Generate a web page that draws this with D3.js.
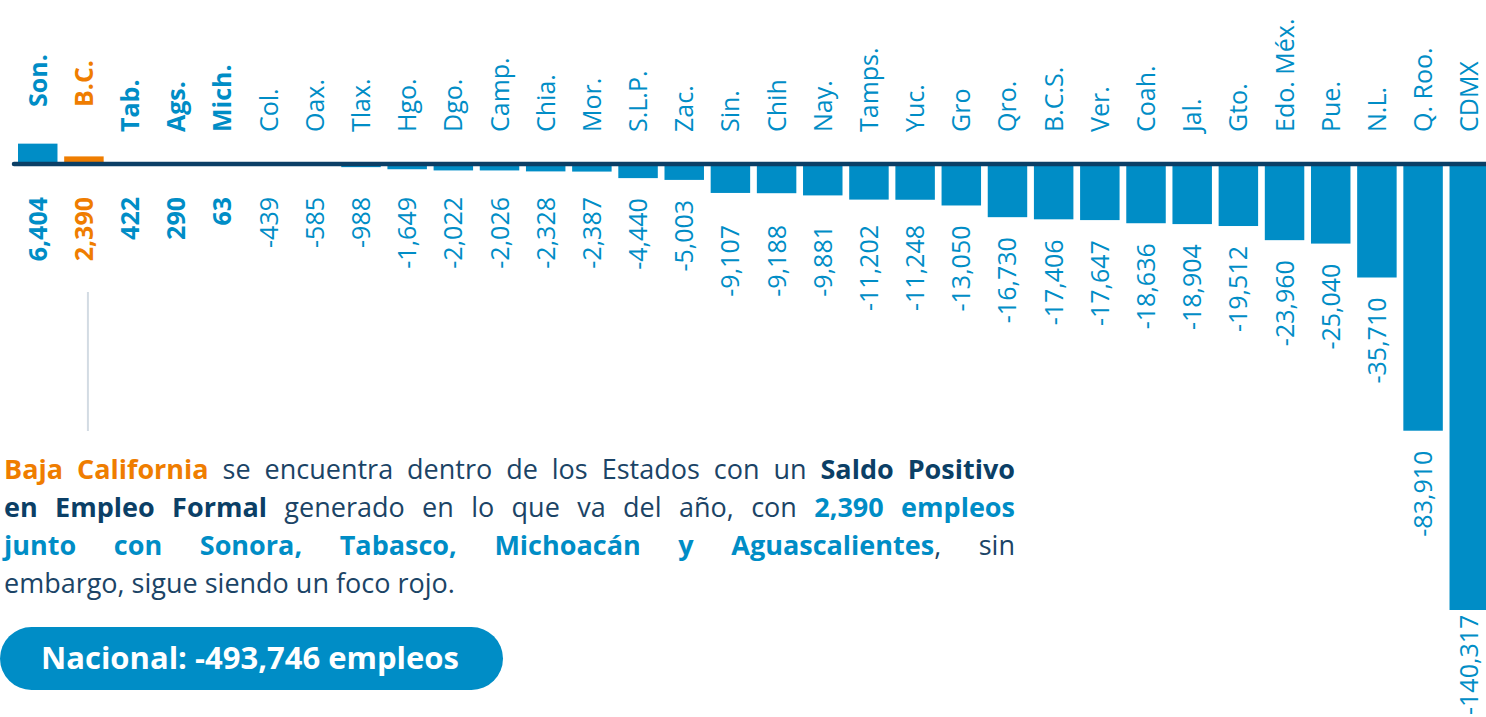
<!DOCTYPE html>
<html>
<head>
<meta charset="utf-8">
<script src="https://cdn.jsdelivr.net/npm/d3@7"></script>
<style>
  body { margin: 0; background: #fff; font-family: "Open Sans", sans-serif; }
  #wrap { position: relative; width: 1486px; height: 717px; overflow: hidden; }
  svg { position: absolute; left: 0; top: 0; }
  #note { position: absolute; left: 4px; top: 450px; width: 1011px; font-size: 27px; line-height: 38px; color: #1b4466; }
  #note .ln { text-align: justify; text-align-last: justify; white-space: nowrap; }
  #note .ln.last { text-align-last: left; }
  #note b { font-weight: 700; }
</style>
</head>
<body>
<div id="wrap">
  <svg id="chart" width="1486" height="717"></svg>
</div>
<script>
// Saldo de empleo formal por entidad
const states = ["Son.","B.C.","Tab.","Ags.","Mich.","Col.","Oax.","Tlax.","Hgo.","Dgo.","Camp.","Chia.","Mor.","S.L.P.","Zac.","Sin.","Chih","Nay.","Tamps.","Yuc.","Gro","Qro.","B.C.S.","Ver.","Coah.","Jal.","Gto.","Edo. Méx.","Pue.","N.L.","Q. Roo.","CDMX"];
const values = [6404,2390,422,290,63,-439,-585,-988,-1649,-2022,-2026,-2328,-2387,-4440,-5003,-9107,-9188,-9881,-11202,-11248,-13050,-16730,-17406,-17647,-18636,-18904,-19512,-23960,-25040,-35710,-83910,-140317];
const highlight = "B.C.";
const nationalTotal = -493746;

const blue = "#008dc6";
const orange = "#ef7d00";
const navy = "#0b3f66";
const H = 717;

const data = states.map((s, i) => ({ state: s, value: values[i] }));
const fmt = d3.formatLocale({ decimal: ".", thousands: ",", grouping: [3], currency: ["$", ""], minus: "-" }).format(",");

const svg = d3.select("#chart");

const x = d3.scaleBand()
  .domain(states)
  .range([18, 1489])
  .paddingInner(0.145)
  .paddingOuter(0);

const y = d3.scaleLinear()
  .domain([-140317, 0])
  .range([610, 164]);

const colorOf = d => d.state === highlight ? orange : blue;

// bars
svg.selectAll(".bar")
  .data(data)
  .enter()
  .append("rect")
  .attr("class", "bar")
  .attr("x", d => x(d.state))
  .attr("width", x.bandwidth())
  .attr("y", d => y(Math.max(0, d.value)))
  .attr("height", d => Math.abs(y(d.value) - y(0)))
  .attr("fill", colorOf);

// zero line
svg.append("line")
  .attr("x1", 14)
  .attr("x2", 1486)
  .attr("y1", y(0))
  .attr("y2", y(0))
  .attr("stroke", navy)
  .attr("stroke-width", 4.5)
  .attr("stroke-linecap", "round");

// state names on top
svg.selectAll(".name")
  .data(data)
  .enter()
  .append("text")
  .attr("class", "name")
  .attr("transform", d => {
    const cx = x(d.state) + x.bandwidth() / 2;
    const top = d.value >= 1000 ? y(0) - 57 : y(0) - 32;
    return `translate(${cx},${top}) rotate(-90)`;
  })
  .attr("dy", "0.36em")
  .attr("text-anchor", "start")
  .style("font-size", "25px")
  .style("font-weight", d => d.value > 0 ? 700 : 400)
  .style("fill", colorOf)
  .text(d => d.state);

// values below
svg.selectAll(".val")
  .data(data)
  .enter()
  .append("text")
  .attr("class", "val")
  .attr("dy", "0.36em")
  .attr("text-anchor", "end")
  .style("font-size", "25px")
  .style("font-weight", d => d.value > 0 ? 700 : 400)
  .style("fill", colorOf)
  .text(d => fmt(d.value))
  .attr("transform", function(d) {
    const cx = x(d.state) + x.bandwidth() / 2;
    const tier = d.value > -9000 ? 197 : 225;
    let top = Math.max(y(Math.min(0, d.value)) + 20, tier);
    // keep the longest label inside the frame
    top = Math.min(top, H - this.getComputedTextLength() - 2);
    return `translate(${cx},${top}) rotate(-90)`;
  });

// connector from B.C. label down to the note
svg.append("line")
  .attr("x1", x(highlight) + x.bandwidth() / 2 + 4)
  .attr("x2", x(highlight) + x.bandwidth() / 2 + 4)
  .attr("y1", 292)
  .attr("y2", 431)
  .attr("stroke", "#d3dbe3")
  .attr("stroke-width", 2);

// national total pill
const pill = svg.append("g");
pill.append("rect")
  .attr("x", 0)
  .attr("y", 627)
  .attr("width", 503)
  .attr("height", 63)
  .attr("rx", 31.5)
  .attr("fill", blue);
pill.append("text")
  .attr("x", 250)
  .attr("y", 669)
  .attr("text-anchor", "middle")
  .style("font-size", "31px")
  .style("font-weight", 700)
  .style("fill", "#fff")
  .text(`Nacional: ${fmt(nationalTotal)} empleos`);

// note paragraph
const note = d3.select("#wrap").append("div").attr("id", "note");
note.append("div").attr("class", "ln")
  .html(`<b style="color:${orange}">Baja California</b> se encuentra dentro de los Estados con un <b style="color:${navy}">Saldo Positivo</b>`);
note.append("div").attr("class", "ln")
  .html(`<b style="color:${navy}">en Empleo Formal</b> generado en lo que va del año, con <b style="color:${blue}">2,390 empleos</b>`);
note.append("div").attr("class", "ln")
  .html(`<b style="color:${blue}">junto con Sonora, Tabasco, Michoacán y Aguascalientes</b>, sin`);
note.append("div").attr("class", "ln last")
  .html(`embargo, sigue siendo un foco rojo.`);
</script>
</body>
</html>
